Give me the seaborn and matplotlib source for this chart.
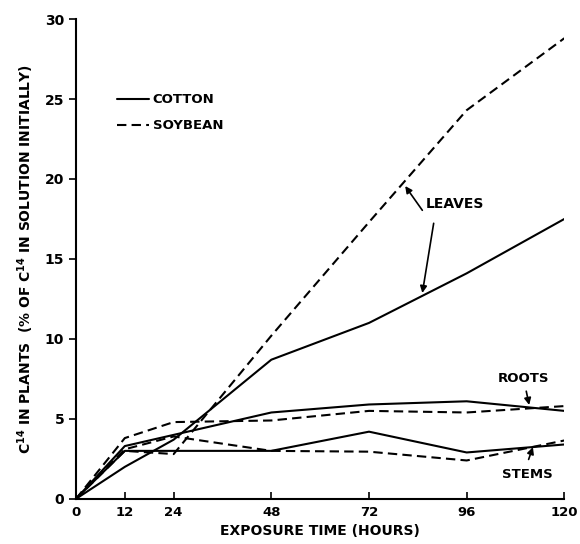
import pandas as pd
import seaborn as sns
import matplotlib.pyplot as plt
from matplotlib.lines import Line2D

# Werte
hours = [0, 12, 24, 48, 72, 96, 120]

cotton_leaves = [0, 2.0, 3.7, 8.7, 11.0, 14.1, 17.5]
cotton_roots = [0, 3.3, 4.0, 5.4, 5.9, 6.1, 5.5]
cotton_stems = [0, 3.0, 3.0, 3.0, 4.2, 2.9, 3.4]

soybean_leaves = [0, 3.0, 2.8, 10.2, 17.3, 24.3, 28.8]
soybean_roots = [0, 3.8, 4.8, 4.9, 5.5, 5.4, 5.8]
soybean_stems = [0, 3.1, 3.9, 3.0, 2.95, 2.4, 3.65]

x_ticks = [0, 12, 24, 48, 72, 96, 120]
y_ticks = [0, 5, 10, 15, 20, 25, 30]

series = {
    ("COTTON", "LEAVES"): cotton_leaves,
    ("COTTON", "ROOTS"): cotton_roots,
    ("COTTON", "STEMS"): cotton_stems,
    ("SOYBEAN", "LEAVES"): soybean_leaves,
    ("SOYBEAN", "ROOTS"): soybean_roots,
    ("SOYBEAN", "STEMS"): soybean_stems,
}
rows = []
for (plant, organ), vals in series.items():
    for h, v in zip(hours, vals):
        rows.append({"hours": h, "value": v, "plant": plant, "organ": plant + organ})
df = pd.DataFrame(rows)

sns.set_style("ticks", {"axes.edgecolor": "black", "text.color": "black",
                        "xtick.color": "black", "ytick.color": "black",
                        "axes.labelcolor": "black"})
plt.rcParams["font.family"] = ["DejaVu Sans"]
plt.rcParams["font.weight"] = "bold"

fig = plt.figure(figsize=(5.8, 5.44), dpi=100)
ax = fig.add_axes([0.131, 0.083, 0.842, 0.882])

sns.lineplot(data=df, x="hours", y="value", style="plant", units="organ",
             estimator=None, color="black", linewidth=1.5,
             dashes={"COTTON": "", "SOYBEAN": (4.5, 2.5)}, legend=False, ax=ax)

ax.set_xlim(0, 120)
ax.set_ylim(0, 30)
ax.set_xticks(x_ticks)
ax.set_yticks(y_ticks)
ax.tick_params(axis="x", direction="in", length=5, width=1.2, labelsize=9.5, pad=5)
ax.tick_params(axis="y", direction="out", length=5, width=1.2, labelsize=10)
for lab in ax.get_xticklabels() + ax.get_yticklabels():
    lab.set_fontweight("bold")
sns.despine(ax=ax)
for s in ["left", "bottom"]:
    ax.spines[s].set_linewidth(1.5)

ax.set_xlabel("EXPOSURE TIME (HOURS)", fontsize=10, fontweight="bold", labelpad=4)
ax.set_ylabel("C$^{14}$ IN PLANTS  (% OF C$^{14}$ IN SOLUTION INITIALLY)",
              fontsize=10, fontweight="bold", labelpad=6)

handles = [Line2D([], [], color="black", lw=1.5),
           Line2D([], [], color="black", lw=1.5, dashes=(4.5, 2.5))]
ax.legend(handles, ["COTTON", "SOYBEAN"], loc="upper left",
          bbox_to_anchor=(0.06, 0.87), frameon=False, handlelength=2.4,
          handletextpad=0.3, labelspacing=1.0, prop={"size": 9.5, "weight": "bold"})

arrow = dict(arrowstyle="-|>", color="black", lw=1.2, mutation_scale=10)
ax.text(86, 18.2, "LEAVES", fontsize=10, fontweight="bold")
ax.annotate("", xy=(80.5, 19.7), xytext=(85.5, 17.9), arrowprops=arrow)
ax.annotate("", xy=(85, 12.7), xytext=(88, 17.4), arrowprops=arrow)
ax.text(110, 7.3, "ROOTS", fontsize=9.5, fontweight="bold", ha="center")
ax.annotate("", xy=(111.5, 5.7), xytext=(110.5, 6.9), arrowprops=arrow)
ax.text(111, 1.3, "STEMS", fontsize=9.5, fontweight="bold", ha="center")
ax.annotate("", xy=(112.5, 3.4), xytext=(111, 2.3), arrowprops=arrow)

fig.savefig("out.png", dpi=100)
